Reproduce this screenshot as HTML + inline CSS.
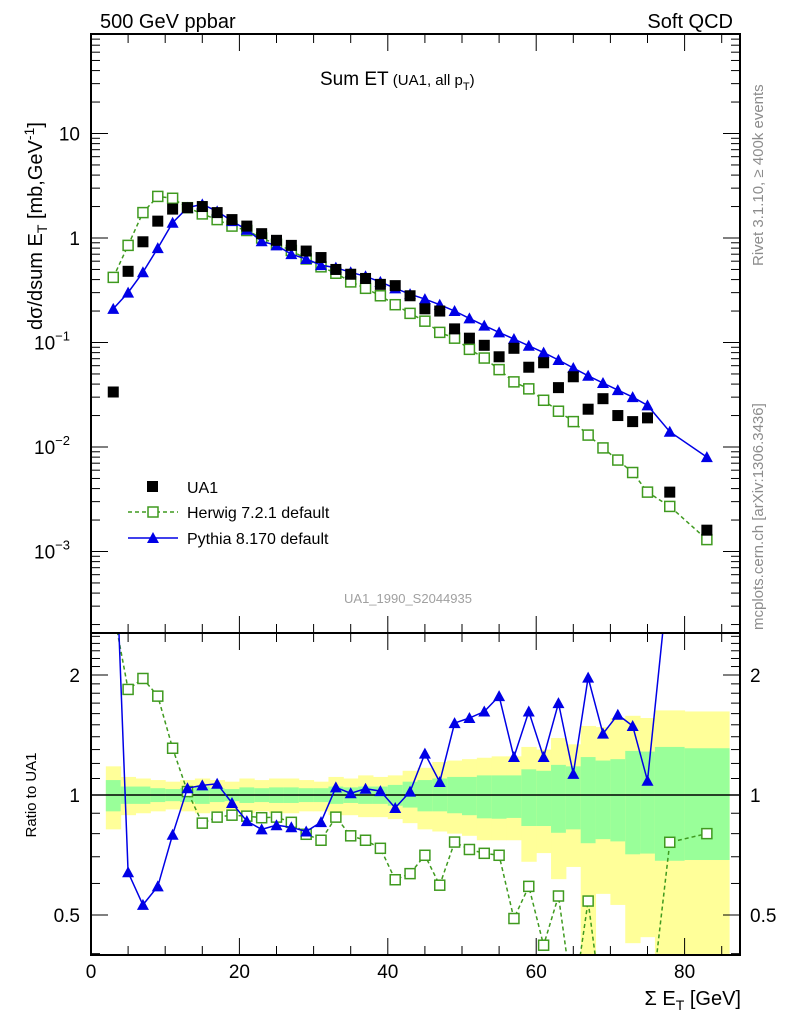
<!DOCTYPE html>
<html><head><meta charset="utf-8"><style>
html,body{margin:0;padding:0;background:#fff}
svg{display:block;font-family:"Liberation Sans",sans-serif}
</style></head><body>
<svg id="chart" width="786" height="1024" viewBox="0 0 786 1024" xmlns="http://www.w3.org/2000/svg">
<text x="100" y="28" font-size="20">500 GeV ppbar</text>
<text x="733" y="28" font-size="20" text-anchor="end">Soft QCD</text>
<text x="320" y="85" font-size="19">Sum ET<tspan font-size="15"> (UA1, all p</tspan><tspan font-size="11" dy="5">T</tspan><tspan font-size="15" dy="-5">)</tspan></text>
<text transform="translate(42,330) rotate(-90)" font-size="20">dσ/dsum E<tspan font-size="14" dy="5">T</tspan><tspan dy="-5"> [mb,GeV</tspan><tspan font-size="14" dy="-8">-1</tspan><tspan dy="8">]</tspan></text>
<text transform="translate(763,266) rotate(-90)" font-size="15" fill="#8c8c8c">Rivet 3.1.10, ≥ 400k events</text>
<text transform="translate(763,630) rotate(-90)" font-size="15" fill="#8c8c8c">mcplots.cern.ch [arXiv:1306.3436]</text>
<text x="408" y="603" font-size="13" fill="#a0a0a0" text-anchor="middle">UA1_1990_S2044935</text>
<text transform="translate(36,795) rotate(-90)" font-size="15" text-anchor="middle">Ratio to UA1</text>
<text x="741" y="1005" font-size="20" text-anchor="end">Σ E<tspan font-size="14" dy="5">T</tspan><tspan dy="-5"> [GeV]</tspan></text>
<g id="g"></g>
</svg>
<script>
const xs=[3,5,7,9,11,13,15,17,19,21,23,25,27,29,31,33,35,37,39,41,43,45,47,49,51,53,55,57,59,61,63,65,67,69,71,73,75,78,83];
const binLo=[2,4,6,8,10,12,14,16,18,20,22,24,26,28,30,32,34,36,38,40,42,44,46,48,50,52,54,56,58,60,62,64,66,68,70,72,74,76,80];
const binHi=[4,6,8,10,12,14,16,18,20,22,24,26,28,30,32,34,36,38,40,42,44,46,48,50,52,54,56,58,60,62,64,66,68,70,72,74,76,80,86];
const ua1=[0.0336,0.48,0.92,1.45,1.89,1.95,2.0,1.75,1.5,1.3,1.1,0.95,0.85,0.75,0.65,0.5,0.45,0.41,0.36,0.35,0.28,0.21,0.2,0.135,0.11,0.094,0.073,0.088,0.058,0.064,0.037,0.047,0.023,0.029,0.020,0.0175,0.019,0.0037,0.0016];
const herwig=[0.42,0.85,1.75,2.5,2.4,1.95,1.7,1.5,1.3,1.18,1.0,0.87,0.76,0.63,0.53,0.46,0.38,0.33,0.28,0.23,0.19,0.16,0.125,0.11,0.086,0.071,0.055,0.042,0.036,0.028,0.022,0.0175,0.013,0.0098,0.0075,0.0057,0.0037,0.0027,0.0013];
const pythia=[0.21,0.3,0.47,0.8,1.4,1.95,2.1,1.8,1.45,1.2,0.93,0.85,0.7,0.63,0.55,0.52,0.47,0.43,0.38,0.33,0.29,0.26,0.23,0.2,0.17,0.145,0.125,0.108,0.093,0.08,0.068,0.057,0.048,0.041,0.035,0.03,0.025,0.014,0.008];
const herwigRatio=[2.9,1.84,1.96,1.77,1.31,1.02,0.85,0.88,0.89,0.885,0.877,0.88,0.854,0.797,0.77,0.88,0.79,0.77,0.735,0.613,0.635,0.706,0.594,0.762,0.73,0.714,0.706,0.49,0.59,0.42,0.558,0.3,0.542,0.28,0.25,0.25,0.25,0.761,0.80];
const pythiaRatio=[6.0,0.64,0.53,0.59,0.795,1.04,1.057,1.067,0.955,0.86,0.82,0.84,0.83,0.81,0.855,1.045,1.01,1.037,1.023,0.928,1.02,1.27,1.078,1.515,1.56,1.62,1.77,1.245,1.62,1.245,1.70,1.13,1.97,1.425,1.59,1.49,1.086,3.8,4.0];
const yellowHi=[1.18,1.11,1.10,1.09,1.08,1.09,1.10,1.09,1.08,1.10,1.09,1.10,1.10,1.09,1.08,1.11,1.10,1.12,1.11,1.12,1.15,1.17,1.21,1.22,1.23,1.24,1.25,1.25,1.32,1.30,1.39,1.34,1.49,1.48,1.56,1.58,1.56,1.63,1.62];
const yellowLo=[0.82,0.89,0.90,0.91,0.92,0.91,0.90,0.91,0.92,0.90,0.91,0.90,0.90,0.91,0.91,0.89,0.89,0.88,0.88,0.87,0.85,0.82,0.81,0.80,0.79,0.77,0.77,0.77,0.68,0.715,0.615,0.66,0.3,0.565,0.53,0.425,0.44,0.30,0.30];
const greenHi=[1.09,1.05,1.05,1.04,1.035,1.04,1.05,1.04,1.035,1.045,1.04,1.045,1.045,1.04,1.04,1.05,1.045,1.05,1.05,1.06,1.08,1.09,1.10,1.11,1.11,1.12,1.12,1.12,1.16,1.15,1.19,1.18,1.245,1.22,1.23,1.29,1.285,1.32,1.31];
const greenLo=[0.91,0.95,0.95,0.96,0.965,0.96,0.95,0.96,0.965,0.955,0.96,0.955,0.955,0.96,0.96,0.95,0.955,0.95,0.95,0.94,0.93,0.91,0.91,0.90,0.89,0.874,0.872,0.876,0.836,0.836,0.804,0.82,0.757,0.775,0.765,0.71,0.713,0.684,0.687];
const xTicks=[0,20,40,60,80];

const NS="http://www.w3.org/2000/svg";
const g=document.getElementById('g');
const L=91,R=740,T=34,M=633,B=955;
const X=v=>L+v*7.42;
const Y=v=>238-Math.log10(v)*104.5;
const YR=v=>795-Math.log10(v)*398.7;
function el(tag,attrs,parent){const e=document.createElementNS(NS,tag);for(const k in attrs)e.setAttribute(k,attrs[k]);(parent||g).appendChild(e);return e;}

const defs=el('defs',{});
const c1=el('clipPath',{id:'cm'},defs);el('rect',{x:L,y:T,width:R-L,height:M-T},c1);
const c2=el('clipPath',{id:'cr'},defs);el('rect',{x:L,y:M,width:R-L,height:B-M},c2);
const gm=el('g',{'clip-path':'url(#cm)'});


const gr=el('g',{'clip-path':'url(#cr)'});



for(let i=0;i<xs.length;i++){
  const y1=el('rect',{x:X(binLo[i]),y:YR(yellowHi[i]),width:X(binHi[i])-X(binLo[i])+0.5,height:YR(yellowLo[i])-YR(yellowHi[i]),fill:'#ffff99'},gr);
  
  
  const g1=el('rect',{x:X(binLo[i]),y:YR(greenHi[i]),width:X(binHi[i])-X(binLo[i])+0.5,height:YR(greenLo[i])-YR(greenHi[i]),fill:'#99ff99'},gr);
  
  
}
const ul=el('line',{x1:L,x2:R,y1:YR(1),y2:YR(1),stroke:'#000','stroke-width':1.5},gr);



function series(parent,vals,yf,color,dash,marker,name){
  const pts=xs.map((x,i)=>X(x).toFixed(1)+','+yf(vals[i]).toFixed(1)).join(' ');
  const pl=el('polyline',{points:pts,fill:'none',stroke:color,'stroke-width':1.5,'stroke-dasharray':dash||'none'},parent);
  
  
  xs.forEach((x,i)=>{
    const cx=X(x),cy=yf(vals[i]);let m;
    if(marker==='tri'){m=el('polygon',{points:`${cx-6},${cy+5} ${cx+6},${cy+5} ${cx},${cy-6}`,fill:color},parent);}
    else if(marker==='open'){m=el('rect',{x:cx-5,y:cy-5,width:10,height:10,fill:'#fff',stroke:color,'stroke-width':1.5},parent);}
    else {m=el('rect',{x:cx-5.5,y:cy-5.5,width:11,height:11,fill:color},parent);}
    
    
  });
}
series(gm,herwig,Y,'#3f9a1f','4,3','open','herwig');
series(gm,pythia,Y,'#0000e6',null,'tri','pythia');
xs.forEach((x,i)=>{const m=el('rect',{x:X(x)-5.5,y:Y(ua1[i])-5.5,width:11,height:11,fill:'#000'},gm);
  
  });
series(gr,herwigRatio,YR,'#3f9a1f','4,3','open','herwig-ratio');
series(gr,pythiaRatio,YR,'#0000e6',null,'tri','pythia-ratio');

const f1=el('rect',{x:L,y:T,width:R-L,height:M-T,fill:'none',stroke:'#000','stroke-width':2});

const f2=el('rect',{x:L,y:M,width:R-L,height:B-M,fill:'none',stroke:'#000','stroke-width':2});


for(let v=0;v<=87;v+=5){
  const big=v%20===0, len=big?17:9;
  [[T,1],[M,-1],[M,1],[B,-1]].forEach(([y0,d])=>{
    const t=el('line',{x1:X(v),x2:X(v),y1:y0,y2:y0+d*len,stroke:'#000','stroke-width':1});
    
  });
}
xTicks.forEach(v=>{const t=el('text',{x:X(v),y:978,'font-size':19,'text-anchor':'middle'});t.textContent=v;
  });

for(let e=-4;e<=1;e++){for(let k=1;k<10;k++){
  const v=k*Math.pow(10,e),y=Y(v);if(y<T||y>M)continue;
  const len=k===1?17:9;
  [[L,1],[R,-1]].forEach(([x0,d])=>{const t=el('line',{x1:x0,x2:x0+d*len,y1:y,y2:y,stroke:'#000','stroke-width':1});
    });
}}
const yl=[[10,'10',null],[1,'1',null],[0.1,'10','−1'],[0.01,'10','−2'],[0.001,'10','−3']];
yl.forEach(([v,b,ex])=>{
  const t=el('text',{x:ex?70:80,y:Y(v)+7,'font-size':19,'text-anchor':'end'});
  
  t.textContent=b;
  if(ex){const s=el('tspan',{'font-size':13,dy:-9},t);s.textContent=ex;}
});
[0.4,0.5,0.6,0.7,0.8,0.9,1,1.1,1.2,1.3,1.4,1.5,1.6,1.7,1.8,1.9,2,2.1,2.2,2.3,2.4,2.5].forEach(v=>{
  const y=YR(v);if(y<M||y>B)return;
  const len=(v===0.5||v===1||v===2)?17:9;
  [[L,1],[R,-1]].forEach(([x0,d])=>{const t=el('line',{x1:x0,x2:x0+d*len,y1:y,y2:y,stroke:'#000','stroke-width':1});
    });
});
[[2,'2'],[1,'1'],[0.5,'0.5']].forEach(([v,s])=>{
  const a=el('text',{x:80,y:YR(v)+7,'font-size':19,'text-anchor':'end'});a.textContent=s;
  
  const b=el('text',{x:750,y:YR(v)+7,'font-size':19}); b.textContent=s;
  
});

const lg=el('g',{});

const e1=el('rect',{x:147,y:481,width:11,height:11,fill:'#000'},lg);

const e2=el('line',{x1:128,x2:178,y1:512,y2:512,stroke:'#3f9a1f','stroke-width':1.5,'stroke-dasharray':'4,3'},lg);

const e3=el('rect',{x:148,y:507,width:10,height:10,fill:'#fff',stroke:'#3f9a1f','stroke-width':1.5},lg);

const e4=el('line',{x1:128,x2:178,y1:538,y2:538,stroke:'#0000e6','stroke-width':1.5},lg);

const e5=el('polygon',{points:'147,543 159,543 153,532',fill:'#0000e6'},lg);

[['UA1',493],['Herwig 7.2.1 default',518],['Pythia 8.170 default',544]].forEach(([s,y])=>{
  const t=el('text',{x:187,y:y,'font-size':16},lg);t.textContent=s;
  
});
</script>
</body></html>
